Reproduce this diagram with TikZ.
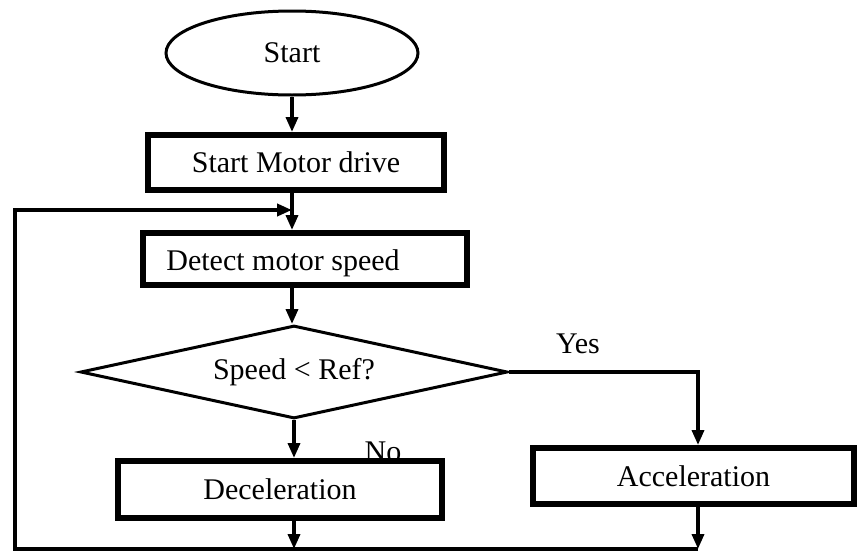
\documentclass[tikz,border=0pt]{standalone}
\usepackage{fontspec}
\setmainfont{Liberation Serif}
\usetikzlibrary{shapes.geometric,arrows.meta}
\begin{document}
\begin{tikzpicture}[x=1pt,y=-1pt,every node/.style={font=\fontsize{30}{36}\selectfont,inner sep=0pt},box/.style={draw,line width=6pt,fill=white,minimum width=324pt,minimum height=55pt},flow/.style={line width=3.5pt,-{Triangle[length=15pt,width=12pt]}}]
\useasboundingbox (0,0) rectangle (857,557);
\node[ellipse,draw,line width=3pt,minimum width=252pt,minimum height=84pt] (start) at (292,53) {Start}; \node[box,minimum width=296pt] (drv) at (296,162.5) {Start Motor drive};
\node[box,minimum height=52pt,label={[xshift=-22pt,yshift=-4pt]center:Detect motor speed}] (det) at (305,259) {}; \node[diamond,aspect=4.6,draw,line width=3pt,minimum width=427pt,minimum height=93pt] (chk) at (294,372) {Speed < Ref?};
\node[anchor=base] (yes) at (578,353) {Yes}; \node[anchor=base] (no) at (383,461) {No};
\node[box,minimum height=57pt] (dec) at (280,489.5) {Deceleration}; \node[box,minimum width=321pt,minimum height=56pt] (acc) at (693.5,476) {Acceleration};
\coordinate (bl) at (15,549); \coordinate (tl) at (15,210);
\draw[flow] (start.south) -- (start.south |- drv.north); \draw[flow] (start.south |- drv.south) -- (start.south |- det.north); \draw[flow] (start.south |- det.south) -- (start.south |- chk.north);
\draw[flow] (chk.east) -| ([xshift=4.5pt]acc.north); \draw[flow] (chk.south) -- (chk.south |- dec.north);
\draw[flow] (chk.south |- dec.south) -- (chk.south |- bl); \draw[flow] ([xshift=4.5pt]acc.south) -- ([xshift=4.5pt]acc.south |- bl);
\draw[flow,line width=4pt] ([xshift=4.5pt]acc.south |- bl) -- (bl) -- (tl) -- (start.south |- tl);
\end{tikzpicture}
\end{document}
